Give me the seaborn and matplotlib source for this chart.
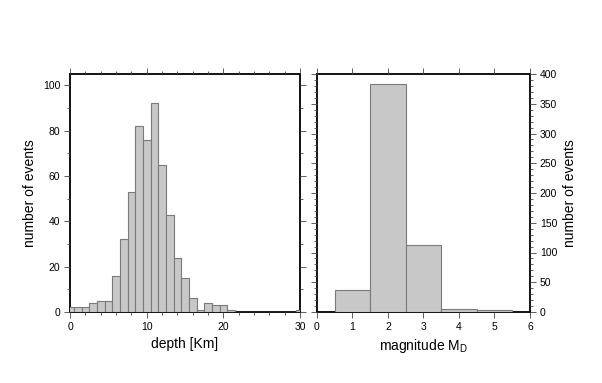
import matplotlib
matplotlib.use("Agg")
import matplotlib.pyplot as plt
from matplotlib import font_manager
from matplotlib.ticker import MultipleLocator
import seaborn as sns

# depth histogram (1 km bins centred on integers)
depth_km = [0, 1, 2, 3, 4, 5, 6, 7, 8, 9, 10, 11, 12, 13, 14, 15, 16, 17, 18, 19, 20, 21, 30]
depth_counts = [2, 2, 2, 4, 5, 5, 16, 32, 53, 82, 76, 92, 65, 43, 24, 15, 6, 1, 4, 3, 3, 1, 1]

# magnitude histogram (unit bins centred on integers)
mag_md = [1, 2, 3, 4, 5]
mag_counts = [37, 383, 112, 5, 3]

sns.set_style("white")

# make sure the regular (not narrow) Liberation Sans is the one picked
family = "Liberation Sans"
for f in font_manager.findSystemFonts():
    if f.endswith("LiberationSans-Regular.ttf"):
        font_manager.fontManager.addfont(f)
        family = font_manager.FontProperties(fname=f).get_name()
        break
plt.rcParams["font.family"] = [family, "DejaVu Sans"]
plt.rcParams["mathtext.default"] = "regular"
plt.rcParams["text.color"] = "black"
plt.rcParams["axes.labelcolor"] = "black"
plt.rcParams["xtick.color"] = "black"
plt.rcParams["ytick.color"] = "black"

fig = plt.figure(figsize=(6.02, 3.83), dpi=100)
ax1 = fig.add_axes([70 / 602, 71 / 383, 230 / 602, 238 / 383])
ax2 = fig.add_axes([317 / 602, 71 / 383, 213 / 602, 238 / 383])

bar_kw = dict(color="#c8c8c8", edgecolor="#7a7a7a", linewidth=0.8, alpha=1)

sns.histplot(x=depth_km, weights=depth_counts, discrete=True, ax=ax1, **bar_kw)
sns.histplot(x=mag_md, weights=mag_counts, discrete=True, ax=ax2, **bar_kw)

ax1.set_xlim(0, 30)
ax1.set_ylim(0, 105)
ax1.xaxis.set_major_locator(MultipleLocator(10))
ax1.xaxis.set_minor_locator(MultipleLocator(2))
ax1.yaxis.set_major_locator(MultipleLocator(20))
ax1.yaxis.set_minor_locator(MultipleLocator(10))
ax1.set_xlabel("depth [Km]", fontsize=10)
ax1.set_ylabel("number of events", fontsize=10)

ax2.set_xlim(0, 6)
ax2.set_ylim(0, 400)
ax2.xaxis.set_major_locator(MultipleLocator(1))
ax2.yaxis.set_major_locator(MultipleLocator(50))
ax2.yaxis.set_minor_locator(MultipleLocator(10))
ax2.set_xlabel("magnitude M$_{D}$", fontsize=10)
ax2.set_ylabel("number of events", fontsize=10)
ax2.yaxis.set_label_position("right")

for ax in (ax1, ax2):
    for s in ax.spines.values():
        s.set_visible(True)
        s.set_color("black")
        s.set_linewidth(1.3)
        s.set_zorder(0.5)
    ax.tick_params(which="both", direction="out", top=True, right=True,
                   bottom=True, left=True, color="#444444", labelcolor="black",
                   width=0.6)
    ax.tick_params(which="major", length=4, labelsize=7.5, pad=3)
    ax.tick_params(which="minor", length=2)

ax1.tick_params(labelright=False)
ax2.tick_params(labelleft=False, labelright=True)

fig.savefig("out.png", dpi=100)
